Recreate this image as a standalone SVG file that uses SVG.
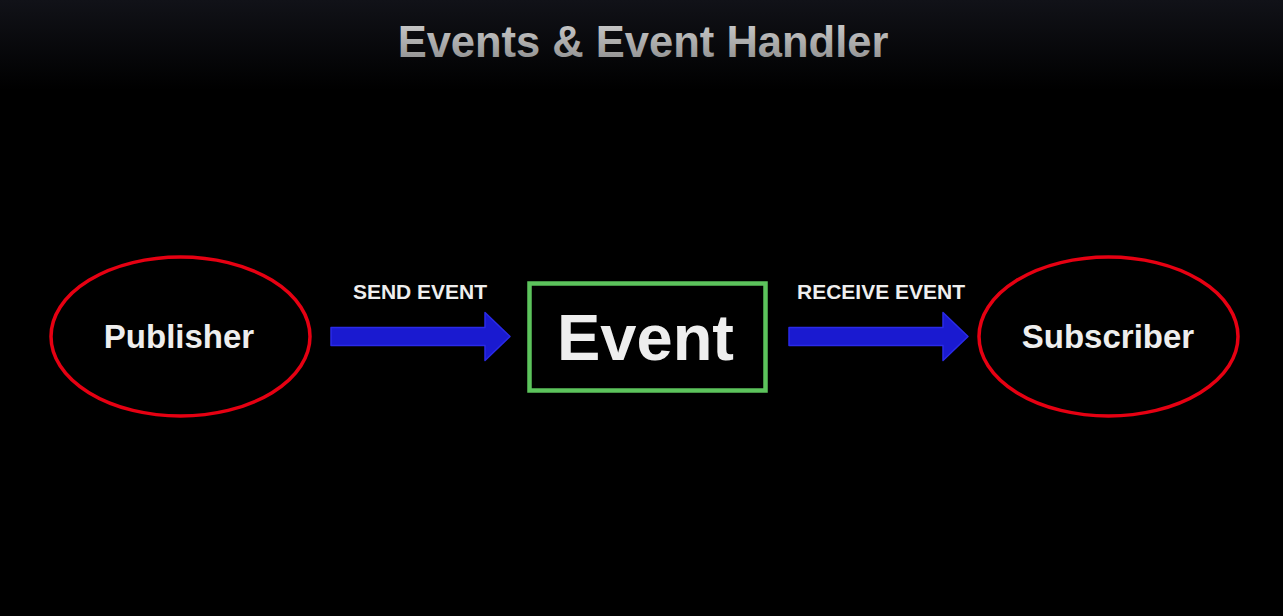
<svg xmlns="http://www.w3.org/2000/svg" width="1283" height="616" viewBox="0 0 1283 616">
  <defs>
    <linearGradient id="bg" x1="0" y1="0" x2="0" y2="1">
      <stop offset="0" stop-color="#111218"/>
      <stop offset="1" stop-color="#000000"/>
    </linearGradient>
    <linearGradient id="title" x1="0" y1="0" x2="0" y2="1">
      <stop offset="0" stop-color="#d0d0d0"/>
      <stop offset="1" stop-color="#8a8a8a"/>
    </linearGradient>
    <style>
      .lbl { font-family: "Liberation Sans", Arial, sans-serif; font-weight: bold; fill: #eeeeee; text-anchor: middle; }
      .oval { fill: #000; stroke: #e60012; stroke-width: 3.5; }
      .box { fill: #000; stroke: #5cc35c; stroke-width: 4.5; }
      .arrow { fill: #1a1ad0; stroke: #2a2ae8; stroke-width: 1.5; stroke-linejoin: round; }
    </style>
  </defs>
  <rect width="1283" height="616" fill="#000"/>
  <rect width="1283" height="90" fill="url(#bg)"/>
  <text x="643" y="57" class="lbl" style="font-size:43.5px; fill:url(#title)">Events &amp; Event Handler</text>

  <g id="publisher">
    <ellipse class="oval" cx="180.5" cy="336.5" rx="129.5" ry="79.5"/>
    <text class="lbl" x="179" y="348" font-size="33">Publisher</text>
  </g>
  <g id="event">
    <rect class="box" x="529.5" y="283.5" width="236" height="107"/>
    <text class="lbl" x="645.5" y="360" font-size="65">Event</text>
  </g>
  <g id="subscriber">
    <ellipse class="oval" cx="1108.5" cy="336.5" rx="129.5" ry="79.5"/>
    <text class="lbl" x="1108" y="348" font-size="33">Subscriber</text>
  </g>

  <g id="connectors">
    <g id="send">
      <polygon class="arrow" points="331,327.5 485,327.5 485,312.5 510,336.5 485,360.5 485,345.5 331,345.5"/>
      <text class="lbl" x="420" y="299" font-size="21">SEND EVENT</text>
    </g>
    <g id="receive">
      <polygon class="arrow" points="789,327.5 943,327.5 943,312.5 968,336.5 943,360.5 943,345.5 789,345.5"/>
      <text class="lbl" x="881" y="299" font-size="21">RECEIVE EVENT</text>
    </g>
  </g>
</svg>
